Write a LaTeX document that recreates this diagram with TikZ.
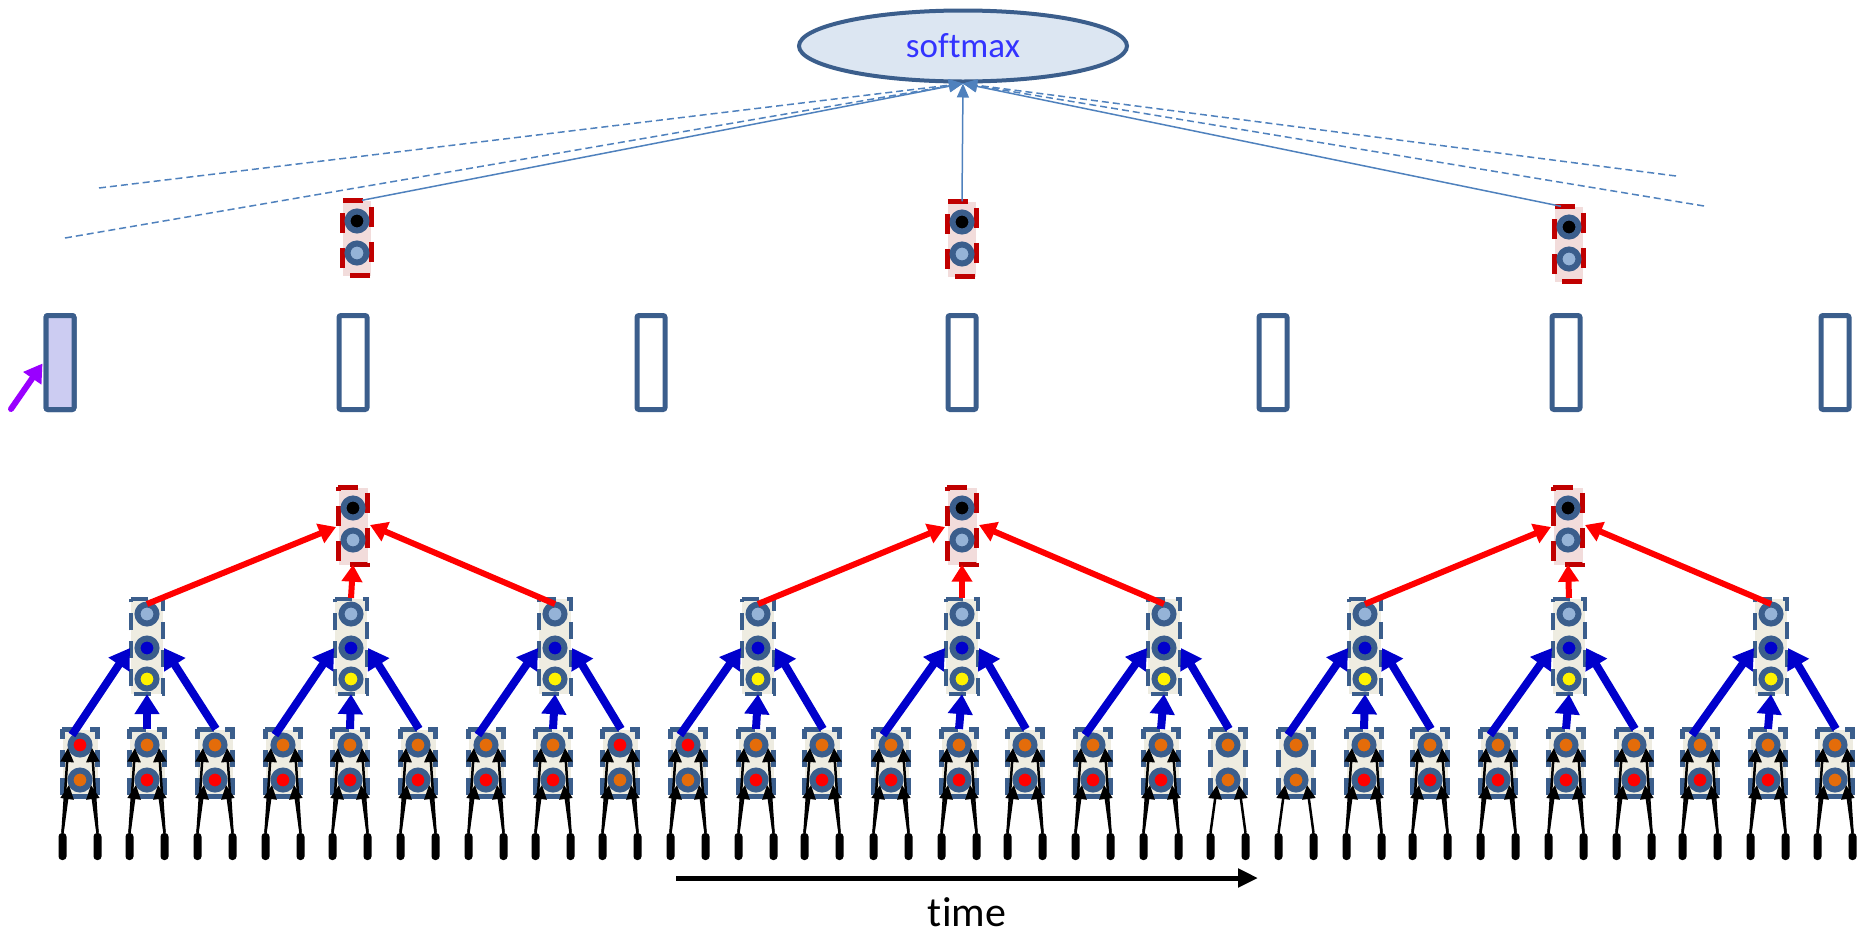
\documentclass[tikz,border=0pt]{standalone}
\usepackage{fontspec}
\setmainfont{Carlito}[Ligatures=NoCommon]
\usetikzlibrary{arrows.meta,calc,shapes.geometric}
\definecolor{ring}{HTML}{3B5E8C}
\definecolor{lblue}{HTML}{95B3D7}
\definecolor{dblue}{HTML}{0000CC}
\definecolor{orng}{HTML}{E46C0A}
\definecolor{beige}{HTML}{EEECE1}
\definecolor{pinkbg}{HTML}{F2DCDB}
\definecolor{dred}{HTML}{C00000}
\definecolor{smfill}{HTML}{DCE6F2}
\definecolor{smline}{HTML}{4F81BD}
\definecolor{smtext}{HTML}{3333FF}
\definecolor{purp}{HTML}{9900FF}
\definecolor{rectfill}{HTML}{CCCCF2}
\begin{document}
\begin{tikzpicture}[x=1pt,y=-1pt,
  ringc/.style={circle,draw=ring,line width=6pt,minimum size=19pt,inner sep=0pt},
  leafbox/.style={fill=beige,minimum width=35pt,minimum height=67pt,inner sep=0pt},
  midbox/.style={fill=beige,minimum width=32pt,minimum height=95pt,inner sep=0pt},
  topbox/.style={fill=pinkbg,minimum width=29pt,minimum height=77pt,inner sep=0pt},
  leafdash/.style={draw=ring,line width=4.5pt,dash pattern=on 17pt off 11pt},
  topdash/.style={draw=dred,line width=5pt,dash pattern=on 20pt off 15pt},
  slot/.style={draw=ring,line width=5pt,rounded corners=2pt,minimum width=28pt,minimum height=94pt,inner sep=0pt},
  bar/.style={fill=black,rounded corners=3.5pt,minimum width=8pt,minimum height=27pt,inner sep=0pt},
  inarrow/.style={-{Triangle[width=13pt,length=14pt]},line width=2.5pt,black},
  bluearrow/.style={-{Triangle[width=24pt,length=20pt]},line width=8pt,dblue},
  redarrow/.style={-{Triangle[width=20pt,length=17pt]},line width=6pt,red},
  smarrow/.style={-{Triangle[width=12pt,length=14pt]},line width=1.5pt,smline},
  smdash/.style={smarrow,dash pattern=on 7pt off 4pt},
]
\useasboundingbox (0,0) rectangle (1866,935);

% ---------- softmax ----------
\node[ellipse,draw=ring,fill=smfill,line width=4pt,minimum width=328pt,minimum height=71pt,inner sep=0pt,
      text=smtext,font=\fontsize{35}{40}\selectfont] (sm) at (963,46) {softmax};

% ---------- upper nodes ----------
\foreach \u/\X/\Y in {1/357/238,2/962/239,3/1569/244}{
  \node[topbox,minimum width=28pt,minimum height=75pt] (U\u) at (\X,\Y) {};
  \draw[topdash] (U\u.north west) -- (U\u.north east) -- (U\u.south east) -- (U\u.south west) -- cycle;
  \node[ringc,fill=black] (Ua\u) at (\X,\Y-17) {};
  \node[ringc,fill=lblue] (Ub\u) at (\X,\Y+15) {};
}

% dashed line ends
\coordinate (D1) at (99,188);
\coordinate (D2) at (65,238);
\coordinate (D3) at (1676,176);
\coordinate (D4) at (1704,206);

\draw[smdash] (D1) -- (sm.south);
\draw[smdash] (D2) -- (sm.south);
\draw[smdash] (D3) -- (sm.south);
\draw[smdash] (D4) -- (sm.south);
\draw[smarrow] ($(U1.north)+(5,0)$) -- (sm.south);
\draw[smarrow] (U2.north) -- (sm.south);
\draw[smarrow] ($(U3.north)+(-8,0)$) -- (sm.south);

% ---------- slot rectangles ----------
\foreach \s/\X in {1/60,2/353,3/651,4/962,5/1273,6/1566,7/1835}{
  \node[slot] (S\s) at (\X,362.5) {};
}
\fill[rectfill] ($(S1.south west)+(2.5,-2.5)$) rectangle ($(S1.north east)+(-2.5,2.5)$);
\node[slot] at (S1) {};
\coordinate (P) at (11,409);
\draw[-{Triangle[width=21pt,length=18pt]},line width=6pt,purp,line cap=round] (P) -- ($(S1.west)+(-1,1)$);

% ---------- top tree nodes ----------
\foreach \k/\X in {1/353,2/962,3/1568}{
  \node[topbox] (T\k) at (\X,526) {};
  \draw[topdash] (T\k.north west) -- (T\k.north east) -- (T\k.south east) -- (T\k.south west) -- cycle;
  \node[ringc,fill=black] (Ta\k) at (\X,508) {};
  \node[ringc,fill=lblue] (Tb\k) at (\X,540) {};
}

% ---------- middle nodes ----------
\foreach \j/\X in {1/147,2/351,3/555,4/758,5/962,6/1164,7/1365,8/1569,9/1771}{
  \node[midbox] (M\j) at (\X,646.5) {};
  \draw[leafdash] (M\j.north west) -- (M\j.north east) -- (M\j.south east) -- (M\j.south west) -- cycle;
  \node[ringc,fill=lblue] (Ma\j) at (\X,614) {};
  \node[ringc,fill=dblue] (Mb\j) at (\X,648) {};
  \node[ringc,fill=yellow] (Mc\j) at (\X,679) {};
}

% ---------- leaves ----------
\foreach \i/\X/\tc/\bc in {
  1/80/red/orng, 2/147/orng/red, 3/215/orng/red,
  4/283/orng/red, 5/350/orng/red, 6/418/orng/red,
  7/486/orng/red, 8/553/orng/red, 9/620/red/orng,
  10/688/red/orng, 11/756/orng/red, 12/822/orng/red,
  13/891/orng/red, 14/959/orng/red, 15/1025/orng/red,
  16/1093/orng/red, 17/1161/orng/red, 18/1228/orng/orng,
  19/1296/orng/orng, 20/1364/orng/red, 21/1430/orng/red,
  22/1498/orng/red, 23/1566/orng/red, 24/1634/orng/red,
  25/1700/orng/red, 26/1768/orng/red, 27/1835/orng/orng}{
  \node[leafbox] (L\i) at (\X,763) {};
  \draw[leafdash] (L\i.north west) -- (L\i.north east) -- (L\i.south east) -- (L\i.south west) -- cycle;
  \node[ringc,fill=\tc] (Lt\i) at (\X,745) {};
  \node[ringc,fill=\bc] (Lb\i) at (\X,780) {};
  \node[bar] (BL\i) at (\X-17.5,846.5) {};
  \node[bar] (BR\i) at (\X+17.5,846.5) {};
}

% input arrows
\foreach \i/\tp in {1/1,2/1,3/1,4/1,5/1,6/1,7/1,8/1,9/1,10/1,11/1,12/1,13/1,14/1,15/1,16/1,17/1,18/0,
                    19/0,20/1,21/1,22/1,23/1,24/1,25/1,26/1,27/1}{
  \draw[inarrow] (BL\i.north) -- ($(Lb\i)+(-11,5)$);
  \draw[inarrow] (BR\i.north) -- ($(Lb\i)+(11,5)$);
  \ifnum\tp=1
    \draw[inarrow] (BL\i.north) -- ($(Lt\i)+(-12,3)$);
    \draw[inarrow] (BR\i.north) -- ($(Lt\i)+(12,3)$);
  \fi
}

% blue arrows: leaves -> middle nodes
\foreach \j in {1,...,9}{
  \pgfmathtruncatemacro{\a}{3*\j-2}
  \pgfmathtruncatemacro{\b}{3*\j-1}
  \pgfmathtruncatemacro{\c}{3*\j}
  \draw[bluearrow] ($(Lt\a)+(-8,-10)$) -- ($(Mb\j)+(-17,0)$);
  \draw[bluearrow] ($(Lt\b)+(0,-16)$) -- (M\j.south);
  \draw[bluearrow] ($(Lt\c)+(1,-16)$) -- ($(Mb\j)+(17,0)$);
}

% red arrows: middle -> top nodes
\foreach \k in {1,2,3}{
  \pgfmathtruncatemacro{\a}{3*\k-2}
  \pgfmathtruncatemacro{\b}{3*\k-1}
  \pgfmathtruncatemacro{\c}{3*\k}
  \draw[redarrow] ($(Ma\a)+(0,-10)$) -- ($(Tb\k)+(-17,-13)$);
  \draw[redarrow] ($(Ma\b)+(0,-16)$) -- (T\k.south);
  \draw[redarrow] ($(Ma\c)+(0,-10)$) -- ($(Tb\k)+(17,-15)$);
}

% ---------- time axis ----------
\coordinate (t0) at (676,878);
\coordinate (t1) at (1258,878);
\draw[-{Triangle[width=18pt,length=20pt]},line width=5pt] (t0) -- (t1);
\node[font=\fontsize{42}{46}\selectfont,inner sep=0pt] (time) at (967,912) {time};
\end{tikzpicture}
\end{document}
